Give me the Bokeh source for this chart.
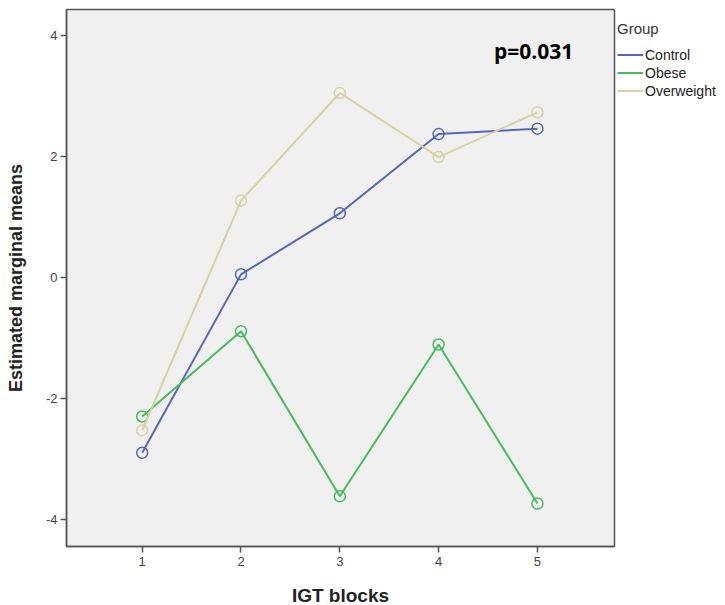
from bokeh.plotting import figure
from bokeh.models import Range1d, FixedTicker, Legend, LegendItem, Label
from bokeh.embed import file_html
from bokeh.resources import INLINE

blocks = [1, 2, 3, 4, 5]
control = [-2.90, 0.05, 1.06, 2.37, 2.46]
obese = [-2.30, -0.89, -3.62, -1.11, -3.74]
overweight = [-2.53, 1.27, 3.05, 1.99, 2.73]
groups = ["Control", "Obese", "Overweight"]
colors = ["#5866b8", "#47bb5e", "#d6d2a3"]
y_ticks = [-4, -2, 0, 2, 4]
annotation = "p=0.031"

p = figure(frame_width=548, frame_height=537, output_backend="svg", toolbar_location=None,
           x_range=Range1d(0.234, 5.78), y_range=Range1d(-4.45, 4.43),
           min_border_left=66, min_border_right=100, min_border_top=9, min_border_bottom=57)
p.background_fill_color = "#f0f0f0"
p.border_fill_color = "white"
p.outline_line_color = "#555555"
p.outline_line_width = 1.5
p.xgrid.visible = False
p.ygrid.visible = False

for ax in (p.xaxis[0], p.yaxis[0]):
    ax.axis_line_color = "#555555"
    ax.axis_line_width = 1.5
    ax.major_tick_line_color = "#555555"
    ax.major_tick_line_width = 1.5
    ax.major_tick_out = 6
    ax.major_tick_in = 0
    ax.minor_tick_line_color = None
    ax.major_label_text_font = "Liberation Sans"
    ax.major_label_text_font_size = "13px"
    ax.major_label_text_color = "#444444"
    ax.axis_label_text_font = "Liberation Sans"
    ax.axis_label_text_font_style = "bold"
    ax.axis_label_text_color = "#222222"

p.xaxis[0].axis_label_text_font_size = "19px"
p.yaxis[0].axis_label_text_font_size = "18px"
p.xaxis[0].ticker = FixedTicker(ticks=blocks)
p.yaxis[0].ticker = FixedTicker(ticks=y_ticks)
p.yaxis[0].major_label_overrides = {t: str(t) for t in y_ticks}
p.xaxis[0].axis_label = "IGT blocks"
p.yaxis[0].axis_label = "Estimated marginal means"
p.xaxis[0].major_label_standoff = 4
p.yaxis[0].major_label_standoff = 3
p.xaxis[0].axis_label_standoff = 16
p.yaxis[0].axis_label_standoff = 17

items = []
for name, vals, col in zip(groups, [control, obese, overweight], colors):
    r = p.line(blocks, vals, line_color=col, line_width=2)
    p.scatter(blocks, vals, marker="circle", size=11, fill_color=None, line_color=col, line_width=1.5)
    items.append(LegendItem(label=name, renderers=[r]))

legend = Legend(items=items, location=(3, 447), title="Group",
                title_text_font="Liberation Sans", title_text_font_size="15px",
                title_text_font_style="normal", title_text_color="#333333",
                title_standoff=9,
                label_text_font="Liberation Sans", label_text_font_size="14px",
                label_text_color="#222222",
                glyph_width=26, glyph_height=17, label_height=17, label_standoff=2,
                spacing=1, padding=3, margin=0,
                border_line_color=None, background_fill_alpha=0)
p.add_layout(legend, "right")

p.add_layout(Label(x=4.56, y=3.75, text=annotation, text_font="Open Sans", text_font_style="bold",
                   text_font_size="21px", text_baseline="middle", text_align="left",
                   text_color="black"))

open("out.html", "w").write(file_html(p, INLINE))
